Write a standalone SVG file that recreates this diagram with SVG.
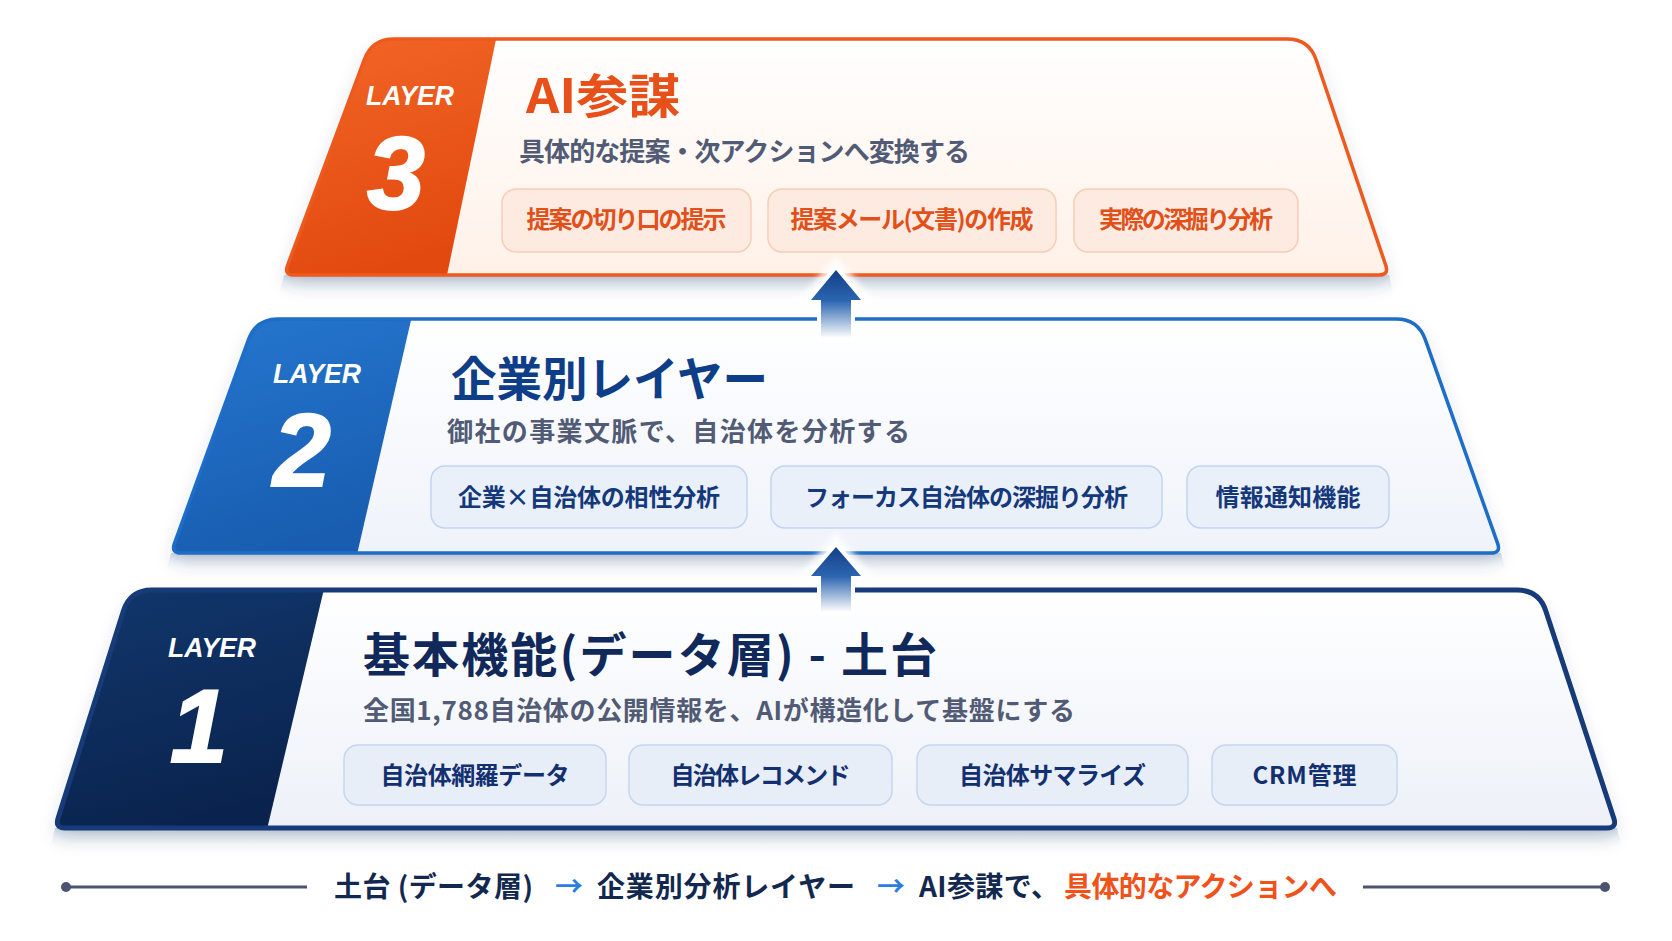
<svg xmlns="http://www.w3.org/2000/svg" width="1672" height="941" viewBox="0 0 1672 941">
<defs>
<style>
.lay{font-family:"Liberation Sans",Arial,sans-serif;font-style:italic;font-weight:700;fill:#ffffff;font-size:28px;text-anchor:middle;}
.num{font-family:"Liberation Sans",Arial,sans-serif;font-style:italic;font-weight:700;fill:#ffffff;font-size:104px;text-anchor:middle;stroke:#ffffff;stroke-width:2;}
.title{font-family:"Noto Sans CJK JP",sans-serif;font-weight:700;font-size:47px;}
.sub{font-family:"Noto Sans CJK JP",sans-serif;font-weight:700;font-size:26px;fill:#525b75;}
.ptxt{font-family:"Noto Sans CJK JP",sans-serif;font-weight:700;font-size:24px;text-anchor:middle;}
.p3{fill:#fdebe1;stroke:#f8cdb6;stroke-width:1.5;}
.p2{fill:#e9f0fa;stroke:#c2d5ef;stroke-width:1.5;}
.p1{fill:#e8eef8;stroke:#c6d6ee;stroke-width:1.5;}
.t3{fill:#e2501a;}
.t2{fill:#14387a;}
.t1{fill:#123070;}
.foot{font-family:"Noto Sans CJK JP",sans-serif;font-weight:700;font-size:28px;}
.arrow{stroke:#ffffff;stroke-width:8;stroke-linejoin:round;paint-order:stroke;}
</style>
<linearGradient id="g3c" x1="0" y1="0" x2="0.3" y2="1"><stop offset="0" stop-color="#f4692a"/><stop offset="1" stop-color="#e2490f"/></linearGradient>
<linearGradient id="g2c" x1="0" y1="0" x2="0.3" y2="1"><stop offset="0" stop-color="#2679d2"/><stop offset="1" stop-color="#185db0"/></linearGradient>
<linearGradient id="g1c" x1="0" y1="0" x2="0.3" y2="1"><stop offset="0" stop-color="#12396f"/><stop offset="1" stop-color="#0a234e"/></linearGradient>
<linearGradient id="g3f" x1="0" y1="0" x2="0" y2="1"><stop offset="0" stop-color="#ffffff"/><stop offset="1" stop-color="#fff1e8"/></linearGradient>
<linearGradient id="g2f" x1="0" y1="0" x2="0" y2="1"><stop offset="0" stop-color="#ffffff"/><stop offset="1" stop-color="#eff3fa"/></linearGradient>
<linearGradient id="g1f" x1="0" y1="0" x2="0" y2="1"><stop offset="0" stop-color="#ffffff"/><stop offset="1" stop-color="#edf1f8"/></linearGradient>
<linearGradient id="ga" x1="0" y1="0" x2="0" y2="1"><stop offset="0" stop-color="#143f86"/><stop offset="0.45" stop-color="#2b65b0"/><stop offset="1" stop-color="#ffffff"/></linearGradient>
<linearGradient id="gband" x1="0" y1="0" x2="0" y2="1"><stop offset="0" stop-color="#cfd7e4"/><stop offset="1" stop-color="#ffffff" stop-opacity="0"/></linearGradient>
<filter id="sh" x="-10%" y="-20%" width="120%" height="160%"><feDropShadow dx="0" dy="10" stdDeviation="9" flood-color="#2b3f66" flood-opacity="0.2"/></filter>
<filter id="glow" x="-50%" y="-50%" width="200%" height="200%"><feGaussianBlur stdDeviation="3"/></filter>
<clipPath id="c3"><path d="M 394,39 L 1287,39 Q 1309,39 1316.1,59.8 L 1385.8,265.5 Q 1389,275 1379,275 L 294,275 Q 284,275 287.5,265.6 L 364.3,59.6 Q 372,39 394,39 Z"/></clipPath>
<clipPath id="c2"><path d="M 278,319 L 1396,319 Q 1418,319 1425.3,339.7 L 1497.7,543.6 Q 1501,553 1491,553 L 181,553 Q 171,553 174.4,543.6 L 248.5,339.7 Q 256,319 278,319 Z"/></clipPath>
<clipPath id="c1"><path d="M 152,590 L 1517,590 Q 1539,590 1545.8,610.9 L 1613.9,818.5 Q 1617,828 1607,828 L 65,828 Q 55,828 58,818.5 L 123.4,611 Q 130,590 152,590 Z"/></clipPath>
</defs>
<rect width="1672" height="941" fill="#ffffff"/>

<g id="layer1">
<polygon points="55,828 1617,828 1622,850 50,850" fill="url(#gband)"/>
<path filter="url(#sh)" fill="url(#g1f)" d="M 152,590 L 1517,590 Q 1539,590 1545.8,610.9 L 1613.9,818.5 Q 1617,828 1607,828 L 65,828 Q 55,828 58,818.5 L 123.4,611 Q 130,590 152,590 Z"/>
<polygon clip-path="url(#c1)" fill="url(#g1c)" points="30,570 328.5,570 264.5,840 30,840"/>
<path fill="none" stroke="#163b78" stroke-width="5" d="M 152,590 L 1517,590 Q 1539,590 1545.8,610.9 L 1613.9,818.5 Q 1617,828 1607,828 L 65,828 Q 55,828 58,818.5 L 123.4,611 Q 130,590 152,590 Z"/>
<text class="lay" x="212" y="657" textLength="88" lengthAdjust="spacingAndGlyphs">LAYER</text>
<text class="num" x="199" y="762">1</text>
<text class="title" x="363" y="672" fill="#10295a" textLength="574">基本機能(データ層) - 土台</text>
<text class="sub" x="363" y="720" textLength="712">全国1,788自治体の公開情報を、AIが構造化して基盤にする</text>
<g id="p1a"><rect class="p1" x="344" y="745" width="262" height="60" rx="14"/><text class="ptxt t1" x="475" y="784" textLength="189">自治体網羅データ</text></g>
<g id="p1b"><rect class="p1" x="629" y="745" width="263" height="60" rx="14"/><text class="ptxt t1" x="760.5" y="784" textLength="180">自治体レコメンド</text></g>
<g id="p1c"><rect class="p1" x="917" y="745" width="271" height="60" rx="14"/><text class="ptxt t1" x="1052.5" y="784" textLength="187">自治体サマライズ</text></g>
<g id="p1d"><rect class="p1" x="1212" y="745" width="185" height="60" rx="14"/><text class="ptxt t1" x="1304.5" y="784" textLength="104">CRM管理</text></g>
</g>

<g id="layer2">
<polygon points="171,553 1501,553 1506,572 166,572" fill="url(#gband)"/>
<path filter="url(#sh)" fill="url(#g2f)" d="M 278,319 L 1396,319 Q 1418,319 1425.3,339.7 L 1497.7,543.6 Q 1501,553 1491,553 L 181,553 Q 171,553 174.4,543.6 L 248.5,339.7 Q 256,319 278,319 Z"/>
<polygon clip-path="url(#c2)" fill="url(#g2c)" points="150,305 414.5,305 354.6,565 150,565"/>
<path fill="none" stroke="#1e6dc8" stroke-width="3.5" d="M 278,319 L 1396,319 Q 1418,319 1425.3,339.7 L 1497.7,543.6 Q 1501,553 1491,553 L 181,553 Q 171,553 174.4,543.6 L 248.5,339.7 Q 256,319 278,319 Z"/>
<text class="lay" x="317" y="383" textLength="88" lengthAdjust="spacingAndGlyphs">LAYER</text>
<text class="num" x="302" y="486">2</text>
<text class="title" x="451" y="396" fill="#0e3e88" textLength="317" lengthAdjust="spacingAndGlyphs">企業別レイヤー</text>
<text class="sub" x="447" y="441" textLength="463">御社の事業文脈で、自治体を分析する</text>
<g id="p2a"><rect class="p2" x="431" y="466" width="316" height="62" rx="14"/><text class="ptxt t2" x="589" y="506" textLength="262">企業×自治体の相性分析</text></g>
<g id="p2b"><rect class="p2" x="771" y="466" width="391" height="62" rx="14"/><text class="ptxt t2" x="966.5" y="506" textLength="323">フォーカス自治体の深掘り分析</text></g>
<g id="p2c"><rect class="p2" x="1187" y="466" width="202" height="62" rx="14"/><text class="ptxt t2" x="1288" y="506" textLength="145">情報通知機能</text></g>
</g>

<g id="layer3">
<polygon points="284,275 1389,275 1394,296 279,296" fill="url(#gband)"/>
<path filter="url(#sh)" fill="url(#g3f)" d="M 394,39 L 1287,39 Q 1309,39 1316.1,59.8 L 1385.8,265.5 Q 1389,275 1379,275 L 294,275 Q 284,275 287.5,265.6 L 364.3,59.6 Q 372,39 394,39 Z"/>
<polygon clip-path="url(#c3)" fill="url(#g3c)" points="250,25 499,25 443.9,290 250,290"/>
<path fill="none" stroke="#ee5a1e" stroke-width="3.5" d="M 394,39 L 1287,39 Q 1309,39 1316.1,59.8 L 1385.8,265.5 Q 1389,275 1379,275 L 294,275 Q 284,275 287.5,265.6 L 364.3,59.6 Q 372,39 394,39 Z"/>
<text class="lay" x="410" y="105" textLength="88" lengthAdjust="spacingAndGlyphs">LAYER</text>
<text class="num" x="396" y="209">3</text>
<text class="title" x="526" y="113" fill="#e8501a" textLength="154" lengthAdjust="spacingAndGlyphs">AI参謀</text>
<text class="sub" x="519" y="161" font-size="25" textLength="451">具体的な提案・次アクションへ変換する</text>
<g id="p3a"><rect class="p3" x="502" y="189" width="249" height="63" rx="14"/><text class="ptxt t3" x="626.5" y="228" font-size="22" textLength="200">提案の切り口の提示</text></g>
<g id="p3b"><rect class="p3" x="768" y="189" width="288" height="63" rx="14"/><text class="ptxt t3" x="912" y="228" font-size="22" textLength="243">提案メール(文書)の作成</text></g>
<g id="p3c"><rect class="p3" x="1074" y="189" width="224" height="63" rx="14"/><text class="ptxt t3" x="1186" y="228" font-size="22" textLength="174">実際の深掘り分析</text></g>
</g>

<g id="connectors">
<g id="arrow32">
<polygon points="836,256 878,306 794,306" fill="#ffffff" opacity="0.85" filter="url(#glow)"/>
<path class="arrow" fill="url(#ga)" d="M 836,270 L 861,300 L 851,300 L 851,338 L 821,338 L 821,300 L 811,300 Z"/>
</g>
<g id="arrow21">
<polygon points="836,533 878,582 794,582" fill="#ffffff" opacity="0.85" filter="url(#glow)"/>
<path class="arrow" fill="url(#ga)" d="M 836,547 L 861,576 L 851,576 L 851,612 L 821,612 L 821,576 L 811,576 Z"/>
</g>
</g>

<g id="footer">
<line x1="66" y1="887" x2="307" y2="887" stroke="#4a5470" stroke-width="3"/>
<circle cx="66" cy="887" r="5" fill="#4a5470"/>
<line x1="1363" y1="887" x2="1605" y2="887" stroke="#4a5470" stroke-width="3"/>
<circle cx="1605" cy="887" r="5" fill="#4a5470"/>
<text class="foot" x="334" y="897" fill="#13284f" textLength="199">土台 (データ層)</text>
<text class="foot" x="555" y="897" fill="#2a7fde">→</text>
<text class="foot" x="597" y="897" fill="#13284f" textLength="258">企業別分析レイヤー</text>
<text class="foot" x="877" y="897" fill="#2a7fde">→</text>
<text class="foot" x="919" y="897" fill="#13284f" textLength="140">AI参謀で、</text>
<text class="foot" x="1064" y="897" fill="#f0521a" textLength="273">具体的なアクションへ</text>
</g>
</svg>
